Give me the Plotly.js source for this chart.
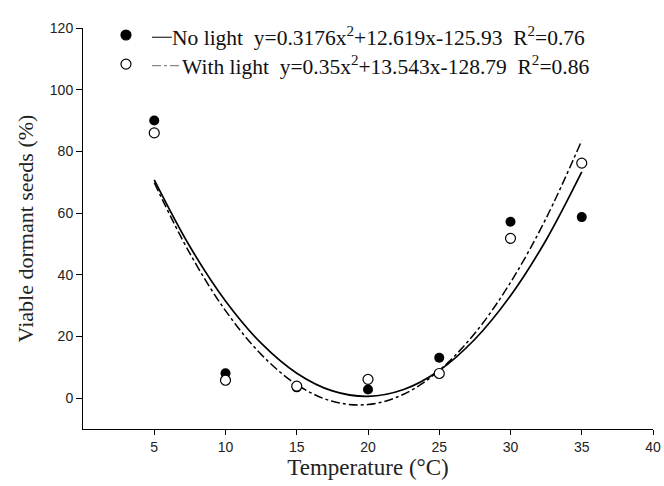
<!DOCTYPE html>
<html>
<head>
<meta charset="utf-8">
<script src="https://cdn.plot.ly/plotly-3.0.1.min.js"></script>
<style>html,body{margin:0;padding:0;background:#fff;}#chart{width:664px;height:486px;}</style>
</head>
<body>
<div id="chart"></div>
<script>
// Observed data
var temps = [5, 10, 15, 20, 25, 30, 35];
var noLight = [90.0, 8.1, 3.5, 2.8, 13.1, 57.2, 58.7];
var withLight = [86.0, 5.8, 3.9, 6.1, 8.0, 51.8, 76.2];

// Fitted curves
var curveX = [5, 7.5, 10, 12.5, 15, 17.5, 20, 22.5, 25, 27.5, 30, 32.5, 35];
var fitNoLight = [70.78, 49.15, 31.50, 17.82, 8.10, 2.36, 0.59, 2.79, 8.96, 19.09, 33.20, 51.28, 73.32];
var fitWithLight = [69.83, 46.91, 28.36, 14.19, 4.40, -1.03, -2.07, 1.26, 8.97, 21.05, 37.50, 58.33, 83.54];

var legendNoLight = "No light  y=0.3176x<sup>2</sup>+12.619x-125.93  R<sup>2</sup>=0.76";
var legendWithLight = "With light  y=0.35x<sup>2</sup>+13.543x-128.79  R<sup>2</sup>=0.86";

var xTicks = [5, 10, 15, 20, 25, 30, 35, 40];
var yTicks = [0, 20, 40, 60, 80, 100, 120];

var traces = [
  {x: curveX, y: fitNoLight, mode: 'lines', line: {color: '#000', width: 1.7, shape: 'spline'}, hoverinfo: 'skip'},
  {x: curveX, y: fitWithLight, mode: 'lines', line: {color: '#000', width: 1.5, dash: 'dashdot', shape: 'spline'}, hoverinfo: 'skip'},
  {x: temps, y: noLight, mode: 'markers', marker: {symbol: 'circle', size: 10, color: '#000'}},
  {x: temps, y: withLight, mode: 'markers', marker: {symbol: 'circle', size: 10, color: '#fff', line: {color: '#000', width: 1.2}}}
];

var serif = 'Liberation Serif, Times New Roman, serif';
var sans = 'Liberation Sans, Arial, sans-serif';

function legendDot(yPaper, filled) {
  return {type: 'circle', xref: 'paper', yref: 'paper', xsizemode: 'pixel', ysizemode: 'pixel',
    xanchor: 0.0754, yanchor: yPaper, x0: -5, x1: 5, y0: -5, y1: 5,
    fillcolor: filled ? '#000' : '#fff', line: {color: '#000', width: 1.2}};
}

var layout = {
  width: 664, height: 486,
  margin: {l: 83, r: 11, t: 28, b: 57},
  paper_bgcolor: '#fff', plot_bgcolor: '#fff',
  showlegend: false,
  xaxis: {
    range: [0, 40], tickvals: xTicks, ticks: 'outside', ticklen: 5, tickwidth: 1, tickcolor: '#000',
    showline: true, linecolor: '#000', linewidth: 1, showgrid: false, zeroline: false,
    tickfont: {family: sans, size: 14, color: '#222'},
    title: {text: 'Temperature (°C)', font: {family: serif, size: 23, color: '#222'}, standoff: 5}
  },
  yaxis: {
    range: [-10, 120], tickvals: yTicks, ticks: 'outside', ticklen: 6, tickwidth: 1, tickcolor: '#000',
    showline: true, linecolor: '#000', linewidth: 1, showgrid: false, zeroline: false,
    tickfont: {family: sans, size: 14, color: '#222'},
    title: {text: 'Viable dormant seeds (%)', font: {family: serif, size: 22, color: '#222'}, standoff: 10}
  },
  shapes: [
    legendDot(0.9825, true),
    legendDot(0.910, false),
    {type: 'line', xref: 'paper', yref: 'paper', x0: 0.121, x1: 0.156, y0: 0.977, y1: 0.977, line: {color: '#000', width: 1}},
    {type: 'line', xref: 'paper', yref: 'paper', x0: 0.121, x1: 0.172, y0: 0.906, y1: 0.906, line: {color: '#444', width: 0.8, dash: 'dashdot'}}
  ],
  annotations: [
    {xref: 'paper', yref: 'paper', x: 0.153, y: 0.978, xanchor: 'left', yanchor: 'middle', text: legendNoLight, showarrow: false, font: {family: serif, size: 21.5, color: '#111'}},
    {xref: 'paper', yref: 'paper', x: 0.171, y: 0.907, xanchor: 'left', yanchor: 'middle', text: legendWithLight, showarrow: false, font: {family: serif, size: 21.5, color: '#111'}}
  ]
};

Plotly.newPlot('chart', traces, layout, {displayModeBar: false, staticPlot: true});
</script>
</body>
</html>
